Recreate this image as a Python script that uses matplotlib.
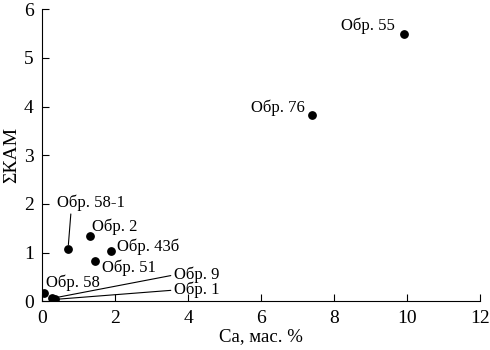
import matplotlib
matplotlib.use('Agg')
import matplotlib.pyplot as plt

plt.rcParams['font.family'] = ['Liberation Serif', 'DejaVu Serif']
plt.rcParams['font.size'] = 12

# data
labels = ['Обр. 55', 'Обр. 76', 'Обр. 58-1', 'Обр. 2', 'Обр. 43б',
          'Обр. 51', 'Обр. 58', 'Обр. 9', 'Обр. 1']
ca = [9.9, 7.38, 0.71, 1.31, 1.88, 1.46, 0.05, 0.26, 0.35]
skam = [5.48, 3.82, 1.08, 1.34, 1.04, 0.82, 0.17, 0.06, 0.04]

# label positions (data coords) and whether a leader line is drawn
text_pos = [(9.65, 5.65), (7.19, 3.97), (0.42, 2.02), (1.37, 1.53), (2.06, 1.12),
            (1.64, 0.68), (0.11, 0.39), (3.6, 0.54), (3.6, 0.23)]
text_ha = ['right', 'right', 'left', 'left', 'left', 'left', 'left', 'left', 'left']
leader = [False, False, True, False, False, False, False, True, True]

fig = plt.figure(figsize=(4.9, 3.5), dpi=100)
ax = fig.add_axes([0.086, 0.139, 0.894, 0.835])

ax.scatter(ca, skam, s=28, color='black', zorder=3)

for i, lab in enumerate(labels):
    if leader[i]:
        relpos = (0.2, 0.0) if lab == 'Обр. 58-1' else (0.0, 0.5)
        ax.annotate(lab, xy=(ca[i], skam[i]), xytext=text_pos[i],
                    ha=text_ha[i], va='center',
                    arrowprops=dict(arrowstyle='-', color='black', lw=0.8,
                                    shrinkA=0, shrinkB=3, relpos=relpos))
    else:
        ax.text(text_pos[i][0], text_pos[i][1], lab, ha=text_ha[i], va='center')

ax.set_xlim(0, 12)
ax.set_ylim(0, 6)
ax.set_xticks(range(0, 13, 2))
ax.set_yticks(range(0, 7))
ax.tick_params(direction='in', length=5, width=0.8, pad=6, labelsize=14)
ax.spines['top'].set_visible(False)
ax.spines['right'].set_visible(False)
ax.set_xlabel('Ca, мас. %', fontsize=13.5, labelpad=1)
ax.set_ylabel('ΣКАМ', fontsize=14, labelpad=3)

fig.savefig('out.png', dpi=100)
